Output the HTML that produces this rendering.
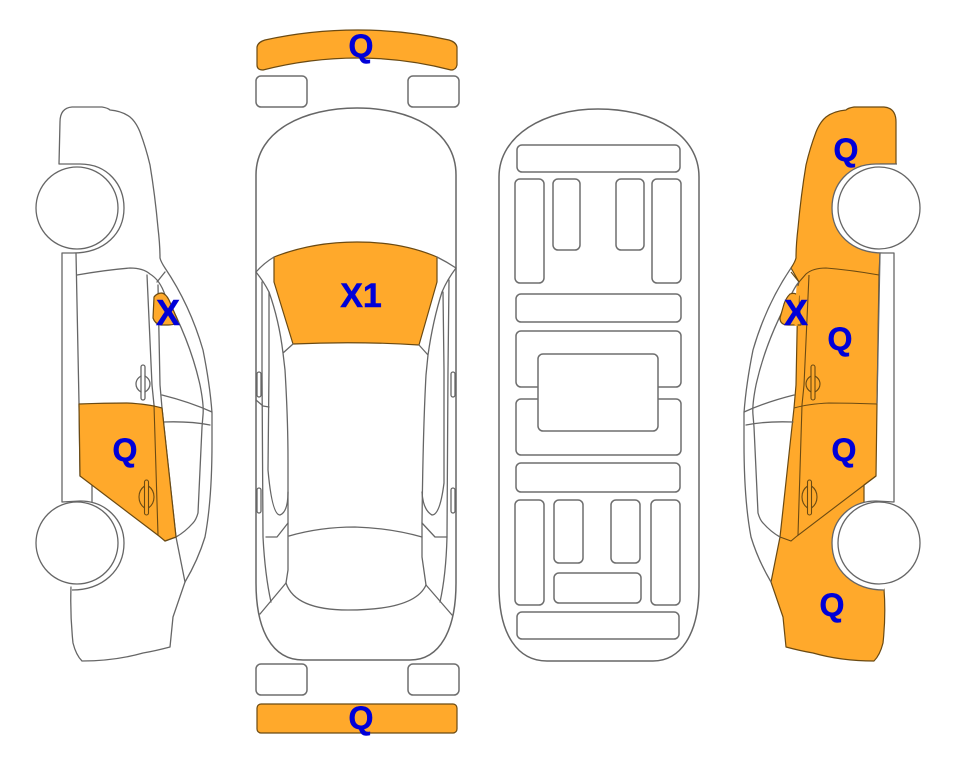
<!DOCTYPE html>
<html><head><meta charset="utf-8"><style>
html,body{margin:0;padding:0;background:#fff}
svg{display:block}
.l{fill:none;stroke:#666;stroke-width:1.3;stroke-linejoin:round;stroke-linecap:round}
.w{fill:#fff;stroke:#666;stroke-width:1.3}
.r{fill:#fff;stroke:#6e6e6e;stroke-width:1.5}
.o{fill:#ffa92b;stroke:#6b4a12;stroke-width:1.2;stroke-linejoin:round}
.d{fill:none;stroke:#6b4a12;stroke-width:1.1}
text{font-family:"Liberation Sans",sans-serif;font-weight:bold;fill:#0000d8;text-anchor:middle;stroke:#0000d8;stroke-width:.5}
</style></head><body>
<svg width="963" height="768" viewBox="0 0 963 768" xmlns="http://www.w3.org/2000/svg">
<defs>
<g id="side">
  <path class="l" d="M59,164 L60,122 Q60,108 72,107 L102,107 Q108,108 110,110 Q122,111 130,117 Q136,122 140,132 Q146,148 150,165 Q155,195 158,228 Q160,245 160,258 Q161,262 165,268 Q190,305 203,350 Q210,385 212,413 L212,443 Q212,500 205,537 Q198,560 185,582 L173,617 L170,647 Q155,651 143,653 Q115,661 82,661 Q76,655 73,643 Q70,615 71,587"/>
  <path class="l" d="M62,253 L62,502 M76,253 L79,403 L80,476 L92,483 L92,502"/>
  <path class="l" d="M77,275 Q105,270 130,268 Q143,268 150,274 Q160,280 165,295 Q190,340 200,385 Q204,405 203,415 L202,427 L198,513 Q196,520 193,523 Q185,532 176,537 L165,541"/>
  <path class="l" d="M147,275 L152,385 L154,405 L158,535 M158,285 L160,385 L162,408 L176,537 L185,582 M157,282 L165,272"/>
  <path class="l" d="M162,395 Q190,402 212,412 M163,422 Q190,421 210,425"/>
</g>
<g id="sideWheels">
  <path class="w" d="M59,164 L80,164 C108,164 124,185 124,208 C124,233 105,253 73,253 L62,253"/>
  <path class="w" d="M62,502 L80,501 C106,501 124,520 124,543 C124,570 103,590 72,590"/>
  <circle class="w" cx="77" cy="208" r="41"/>
  <circle class="w" cx="77" cy="543" r="41"/>
</g>
</defs>

<rect width="963" height="768" fill="#fff"/>

<!-- left car -->
<use href="#side"/>
<use href="#sideWheels"/>
<path class="o" d="M79,404 Q105,403 127,403 Q148,404 162,408 L176,537 L165,541 L159,536 L80,476 Z"/>
<path class="d" d="M154,405 L158,535"/>
<rect class="d" x="144.500" y="480" width="4" height="35" rx="2"/>
<path class="d" d="M144.500,486 Q139,490 139,497 Q139,504 144.500,508 M148.500,486 Q154,490 154,497 Q154,504 148.500,508"/>
<rect class="l" x="141" y="365" width="4" height="35" rx="2"/>
<path class="l" d="M141,376 Q136,379 136,384 Q136,389 141,392 M145,376 Q150,379 150,384 Q150,389 145,392"/>
<path class="o" d="M154,297 Q157,293 162,293 Q166,294 169,300 L178,321 Q176,325 168,325 L161,325 Q155,324 153,318 Z"/>

<!-- right car -->
<g transform="matrix(-1 0 0 1 956 0)">
  <path class="o" d="M60,164 L60,122 Q60,108 72,107 L102,107 Q108,108 110,110 Q122,111 130,117 Q136,122 140,132 Q146,148 150,165 Q155,195 158,228 Q160,245 160,258 Q161,262 165,268 L157,282 L158,285 L160,385 L162,408 L176,537 L185,582 L173,617 L170,647 Q155,651 143,653 Q115,661 82,661 Q76,655 73,643 Q70,615 72,589 L92,570 L92,485 L80,476 L79,404 L77,275 L76,253 L76,164 Z"/>
  <path class="l" d="M165,268 Q190,305 203,350 Q210,385 212,413 L212,443 Q212,500 205,537 Q198,560 185,582"/>
  <path class="l" d="M157,282 Q160,285 165,295 Q190,340 200,385 Q204,405 203,415 L202,427 L198,513 Q196,520 193,523 Q185,532 176,537"/>
  <path class="l" d="M162,395 Q190,402 212,412 M163,422 Q190,421 210,425"/>
  <path class="d" d="M77,275 Q105,270 130,268 Q143,268 150,274 L157,282 M147,275 L152,385 L154,405 L158,535 M79,404 Q105,403 127,403 Q148,404 162,408 M80,476 L159,536 L165,541 L176,537 M157,282 L165,272"/>
  <path class="l" d="M62,253 L62,502 M76,253 L79,403"/>
  <path class="o" d="M157,296 Q161,292 166,294 Q170,298 172,304 L176,318 Q176,325 168,325 L155,325 L157,300 Z"/>
  <path d="M158,286 L160,326" stroke="#ffa92b" stroke-width="3" fill="none"/>
  <rect class="d" x="144.500" y="480" width="4" height="35" rx="2"/>
  <path class="d" d="M144.500,486 Q139,490 139,497 Q139,504 144.500,508 M148.500,486 Q154,490 154,497 Q154,504 148.500,508"/>
  <rect class="d" x="141" y="365" width="4" height="35" rx="2"/>
  <path class="d" d="M141,376 Q136,379 136,384 Q136,389 141,392 M145,376 Q150,379 150,384 Q150,389 145,392"/>
  <use href="#sideWheels"/>
</g>

<!-- top view -->
<path class="o" d="M257,47 Q258,42 265,40 Q310,30 358,30 Q405,30 449,40 Q456,42 457,47 L457,65 Q456,70 451,70 Q405,58 358,58 Q310,58 263,70 Q257,70 257,65 Z"/>
<rect class="r" x="256" y="76" width="51" height="31" rx="5"/>
<rect class="r" x="408" y="76" width="51" height="31" rx="5"/>
<rect class="r" x="256" y="664" width="51" height="31" rx="5"/>
<rect class="r" x="408" y="664" width="51" height="31" rx="5"/>
<rect class="o" x="257" y="704" width="200" height="29" rx="4"/>
<path class="l" style="stroke-width:1.5" d="M256,175 C256,130 305,108 357,108 C410,108 456,130 456,175 L456,583 C456,630 440,660 410,660 L303,660 C272,660 256,630 256,583 Z"/>
<path class="o" d="M274,257 Q312,242 357,242 Q402,242 437,257 L437,282 L419,345 Q357,341 293,344 L274,282 Z"/>
<path class="l" d="M256,272 Q264,263 274,257 M456,268 Q447,262 437,257"/>
<path class="l" d="M256,272 Q264,282 269,292 Q279,320 283,353 L285,370 Q288,420 288,460 L288,570 L286,583 M293,344 L283,353"/>
<path class="l" d="M456,268 Q447,280 442,292 Q433,320 428,355 L426,375 Q423,430 422,523 L422,557 L426,585 M419,345 L428,355"/>
<path class="l" d="M262,282 L262,370 L263,537 Q265,575 271,602 M269,292 L269,370 L268,470 Q272,515 280,515 Q288,512 288,492"/>
<path class="l" d="M449,280 L448,370 L447,537 Q446,575 440,602 M443,292 L444,370 L444,483 Q440,515 432,515 Q423,510 422,492"/>
<path class="l" d="M289,536 Q320,527 355,527 Q390,528 422,537 M286,583 Q295,610 348,610 Q415,610 426,585"/>
<path class="l" d="M286,583 L260,614 M426,585 L452,615 M266,537 L277,537 L288,523 M447,537 L435,537 L422,523 M256,400 L263,406 L269,407"/>
<rect class="l" x="257" y="372" width="4" height="25" rx="2"/>
<rect class="l" x="257" y="488" width="4" height="25" rx="2"/>
<rect class="l" x="451" y="372" width="4" height="25" rx="2"/>
<rect class="l" x="451" y="488" width="4" height="25" rx="2"/>

<!-- underside -->
<path class="l" style="stroke-width:1.5" d="M499,177 C499,135 545,109 598,109 C655,109 699,135 699,177 L699,587 C699,635 680,661 653,661 L547,661 C518,661 499,635 499,587 Z"/>
<rect class="r" x="517" y="145" width="163" height="27" rx="5"/>
<rect class="r" x="515" y="179" width="29" height="104" rx="5"/>
<rect class="r" x="553" y="179" width="27" height="71" rx="5"/>
<rect class="r" x="616" y="179" width="28" height="71" rx="5"/>
<rect class="r" x="652" y="179" width="29" height="104" rx="5"/>
<rect class="r" x="516" y="294" width="165" height="28" rx="5"/>
<rect class="r" x="516" y="331" width="165" height="56" rx="5"/>
<rect class="r" x="516" y="399" width="165" height="56" rx="5"/>
<rect class="r" x="538" y="354" width="120" height="77" rx="5"/>
<rect class="r" x="516" y="463" width="164" height="29" rx="5"/>
<rect class="r" x="515" y="500" width="29" height="105" rx="5"/>
<rect class="r" x="554" y="500" width="29" height="63" rx="5"/>
<rect class="r" x="611" y="500" width="29" height="63" rx="5"/>
<rect class="r" x="651" y="500" width="29" height="105" rx="5"/>
<rect class="r" x="554" y="573" width="87" height="30" rx="5"/>
<rect class="r" x="517" y="612" width="162" height="27" rx="5"/>

<!-- labels -->
<text x="361" y="57" font-size="32">Q</text>
<text x="361" y="729" font-size="32">Q</text>
<text x="361" y="307" font-size="34">X1</text>
<text x="168" y="325" font-size="36">X</text>
<text x="125" y="461" font-size="32">Q</text>
<text x="846" y="161" font-size="32">Q</text>
<text x="796" y="325" font-size="36">X</text>
<text x="840" y="350" font-size="32">Q</text>
<text x="844" y="461" font-size="32">Q</text>
<text x="832" y="616" font-size="32">Q</text>
</svg>
</body></html>
